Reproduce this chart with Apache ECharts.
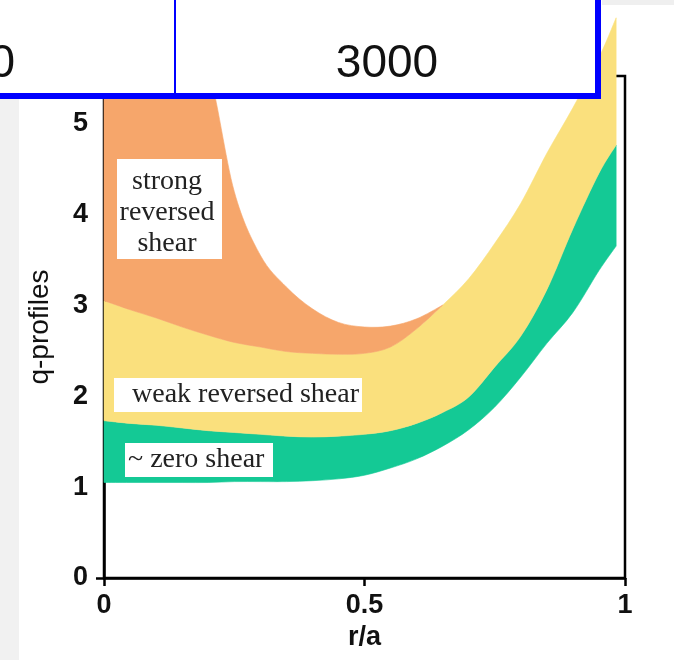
<!DOCTYPE html>
<html>
<head>
<meta charset="utf-8">
<script src="https://cdn.jsdelivr.net/npm/echarts@6/dist/echarts.min.js"></script>
<style>
  html, body { margin: 0; padding: 0; background: #fff; }
  #chart { width: 674px; height: 660px; }
</style>
</head>
<body>
<div id="chart"></div>
<script>
// r/a samples
var r = [0, 0.05, 0.1, 0.15, 0.2, 0.25, 0.3, 0.35, 0.4, 0.45, 0.5, 0.55, 0.6, 0.65, 0.7, 0.75, 0.8, 0.85, 0.9, 0.95, 0.983];
// band edges (q)
var greenLow   = [1.05, 1.05, 1.05, 1.05, 1.05, 1.06, 1.06, 1.06, 1.07, 1.09, 1.13, 1.21, 1.31, 1.45, 1.63, 1.88, 2.21, 2.58, 2.92, 3.38, 3.65];
var greenHigh  = [1.73, 1.70, 1.68, 1.65, 1.62, 1.60, 1.58, 1.56, 1.55, 1.56, 1.58, 1.62, 1.70, 1.82, 1.99, 2.32, 2.66, 3.17, 3.84, 4.45, 4.76];
var yellowHigh = [3.05, 2.95, 2.86, 2.76, 2.67, 2.59, 2.54, 2.49, 2.47, 2.46, 2.47, 2.54, 2.74, 3.00, 3.29, 3.68, 4.12, 4.67, 5.17, 5.72, 6.16];
// orange only exists up to r = 0.65 (its lower edge is yellowHigh)
var orangeHigh = [6.0, 6.0, 6.0, 6.0, 5.6, 4.25, 3.55, 3.20, 2.96, 2.81, 2.76, 2.77, 2.85, 3.00];

var xTicks = ['0', '0.5', '1'];
var yTicks = ['0', '1', '2', '3', '4', '5'];

var cGreen = '#14c995';
var cYellow = '#fae07d';
var cOrange = '#f6a66b';

var myChart = echarts.init(document.getElementById('chart'));

// catmull-rom curve through pixel points, as svg path commands
function curve(p) {
    var d = '';
    for (var i = 0; i < p.length - 1; i++) {
        var a = p[Math.max(i - 1, 0)], b = p[i], c = p[i + 1], e = p[Math.min(i + 2, p.length - 1)];
        var c1x = b[0] + (c[0] - a[0]) / 6, c1y = b[1] + (c[1] - a[1]) / 6;
        var c2x = c[0] - (e[0] - b[0]) / 6, c2y = c[1] - (e[1] - b[1]) / 6;
        d += ' C' + c1x + ',' + c1y + ' ' + c2x + ',' + c2y + ' ' + c[0] + ',' + c[1];
    }
    return d;
}

// one filled shape per band: upper edge forward, lower edge back
function band(name, upper, lower, color) {
    var n = upper.length;
    return {
        name: name,
        type: 'custom',
        coordinateSystem: 'cartesian2d',
        data: [[r[0], lower[0]]],
        clip: false,
        silent: true,
        renderItem: function (params, api) {
            var up = [], lo = [];
            for (var i = 0; i < n; i++) up.push(api.coord([r[i], upper[i]]));
            for (var j = n - 1; j >= 0; j--) lo.push(api.coord([r[j], lower[j]]));
            var d = 'M' + up[0][0] + ',' + up[0][1] + curve(up) +
                ' L' + lo[0][0] + ',' + lo[0][1] + curve(lo) + ' Z';
            return {
                type: 'path',
                shape: { pathData: d },
                style: { fill: color, stroke: color, lineWidth: 0.6 }
            };
        }
    };
}

var bold = { fontFamily: 'Liberation Sans', fontWeight: 'bold', fontSize: 27, color: '#111' };

myChart.setOption({
    animation: false,
    backgroundColor: '#fff',
    grid: {
        left: 104, right: 49, top: 76, bottom: 82,
        show: true, borderColor: '#000', borderWidth: 2.5, backgroundColor: 'transparent'
    },
    xAxis: {
        type: 'value',
        min: 0, max: 1, interval: 0.5,
        name: 'r/a',
        nameLocation: 'middle',
        nameGap: 42,
        nameTextStyle: bold,
        axisLine: { lineStyle: { color: '#000', width: 2.5 } },
        axisTick: { show: true, inside: false, length: 8, lineStyle: { color: '#000', width: 2.5 } },
        axisLabel: Object.assign({ margin: 14, formatter: function (v) { return xTicks[Math.round(v * 2)]; } }, bold),
        splitLine: { show: false }
    },
    yAxis: [{
        type: 'value',
        min: 0, max: 5.52, interval: 1,
        name: 'q-profiles',
        nameLocation: 'middle',
        nameGap: 50,
        nameTextStyle: { fontFamily: 'Liberation Sans', fontSize: 28, color: '#111' },
        axisLine: { show: true, lineStyle: { color: '#000', width: 2.5 } },
        axisTick: { show: false },
        axisLabel: Object.assign({ margin: 16, showMaxLabel: false, formatter: function (v) { return Number.isInteger(v) && yTicks[v] !== undefined ? yTicks[v] : ''; } }, bold),
        splitLine: { show: false }
    }, {
        // only the tick at q = 0
        type: 'value',
        position: 'left',
        min: 0, max: 5.52, interval: 10,
        axisLine: { show: false },
        axisTick: { show: true, length: 8, lineStyle: { color: '#000', width: 2.5 } },
        axisLabel: { show: false },
        splitLine: { show: false }
    }],
    series: [
        band('~ zero shear', greenHigh, greenLow, cGreen),
        band('weak reversed shear', yellowHigh, greenHigh, cYellow),
        band('strong reversed shear', orangeHigh, yellowHigh.slice(0, orangeHigh.length), cOrange)
    ],
    graphic: {
        elements: [
            // side strips
            { type: 'rect', z: 50, shape: { x: 0, y: 99, width: 19, height: 561 }, style: { fill: '#f1f1f1' } },
            { type: 'rect', z: 50, shape: { x: 602, y: 0, width: 72, height: 5 }, style: { fill: '#efefef' } },
            // header cell box
            { type: 'rect', z: 60, shape: { x: -10, y: -10, width: 608, height: 106 }, style: { fill: '#fff', stroke: '#0000ff', lineWidth: 6 } },
            { type: 'line', z: 61, shape: { x1: 175, y1: 0, x2: 175, y2: 94 }, style: { stroke: '#0000ff', lineWidth: 2 } },
            { type: 'text', z: 62, x: 15, y: 64, style: { text: '0', font: '46px "Liberation Sans"', fill: '#111', textAlign: 'right', textVerticalAlign: 'middle' } },
            { type: 'text', z: 62, x: 387, y: 64, style: { text: '3000', font: '46px "Liberation Sans"', fill: '#111', textAlign: 'center', textVerticalAlign: 'middle' } },
            // region labels
            { type: 'rect', z: 40, shape: { x: 117, y: 159, width: 105, height: 100 }, style: { fill: '#fff' } },
            { type: 'text', z: 41, x: 167, y: 213, style: { text: 'strong\nreversed\nshear', font: '28px "Liberation Serif"', lineHeight: 31, fill: '#222', textAlign: 'center', textVerticalAlign: 'middle' } },
            { type: 'rect', z: 40, shape: { x: 114, y: 378, width: 248, height: 34 }, style: { fill: '#fff' } },
            { type: 'text', z: 41, x: 132, y: 395, style: { text: 'weak reversed shear', font: '28px "Liberation Serif"', fill: '#222', textAlign: 'left', textVerticalAlign: 'middle' } },
            { type: 'rect', z: 40, shape: { x: 125, y: 443, width: 148, height: 34 }, style: { fill: '#fff' } },
            { type: 'text', z: 41, x: 128, y: 460, style: { text: '~ zero shear', font: '28px "Liberation Serif"', fill: '#222', textAlign: 'left', textVerticalAlign: 'middle' } }
        ]
    }
});
</script>
</body>
</html>
